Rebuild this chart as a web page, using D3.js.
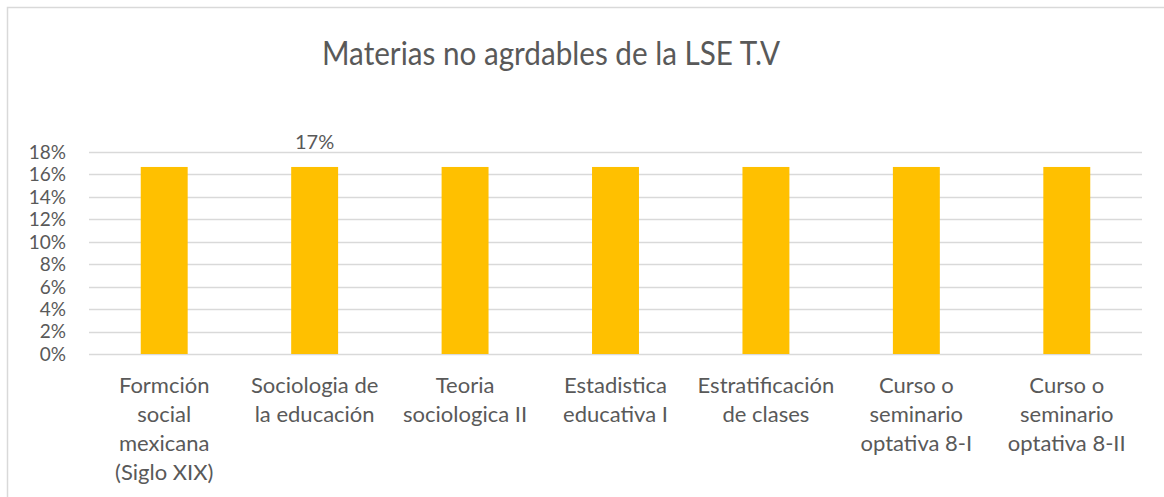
<!DOCTYPE html>
<html>
<head>
<meta charset="utf-8">
<script src="https://cdn.jsdelivr.net/npm/d3@7"></script>
<style>
  body { margin: 0; background: #fff; }
  svg { display: block; font-family: Lato, "Open Sans", sans-serif; }
</style>
</head>
<body>
<svg></svg>
<script>
// chart data
const categories = [
  "Formción\nsocial\nmexicana\n(Siglo XIX)",
  "Sociologia de\nla educación",
  "Teoria\nsociologica II",
  "Estadistica\neducativa I",
  "Estratificación\nde clases",
  "Curso o\nseminario\noptativa 8-I",
  "Curso o\nseminario\noptativa 8-II"
];
const values = [1 / 6, 1 / 6, 1 / 6, 1 / 6, 1 / 6, 1 / 6, 1 / 6];
const yTicks = [0, 0.02, 0.04, 0.06, 0.08, 0.10, 0.12, 0.14, 0.16, 0.18];
const labelledBar = 1; // only the 2nd bar shows its value
const title = "Materias no agrdables de la LSE T.V";

const width = 1164, height = 497;
const margin = { top: 152, right: 22, bottom: 143, left: 89 };
const textColor = "#595959";

const svg = d3.select("svg").attr("width", width).attr("height", height);

// outer chart border (right/bottom fall outside the picture)
svg.append("rect")
  .attr("x", 7.5).attr("y", 7.5)
  .attr("width", width + 20).attr("height", height + 20)
  .attr("fill", "none").attr("stroke", "#d9d9d9").attr("stroke-width", 1.5);

const x = d3.scaleBand()
  .domain(d3.range(categories.length))
  .range([margin.left, width - margin.right])
  .paddingInner(0.688).paddingOuter(0.344);

const y = d3.scaleLinear()
  .domain([0, 0.18])
  .range([height - margin.bottom, margin.top]);

// gridlines
svg.append("g")
  .selectAll("line")
  .data(yTicks)
  .join("line")
  .attr("x1", margin.left).attr("x2", width - margin.right)
  .attr("y1", d => Math.round(y(d)) + 0.5).attr("y2", d => Math.round(y(d)) + 0.5)
  .attr("stroke", "#d9d9d9").attr("stroke-width", 1.5);

// y tick labels
const fmt = d3.format(".0%");
svg.append("g")
  .selectAll("text")
  .data(yTicks)
  .join("text")
  .attr("x", 66)
  .attr("y", d => y(d))
  .attr("dy", "0.36em")
  .attr("text-anchor", "end")
  .attr("fill", textColor)
  .style("font-size", "19px")
  .text(d => fmt(d));

// bars
svg.append("g")
  .selectAll("rect")
  .data(values)
  .join("rect")
  .attr("x", (d, i) => x(i))
  .attr("y", d => y(d))
  .attr("width", x.bandwidth())
  .attr("height", d => y(0) - y(d))
  .attr("fill", "#ffc000");

// data label
svg.append("text")
  .attr("x", x(labelledBar) + x.bandwidth() / 2)
  .attr("y", 149)
  .attr("text-anchor", "middle")
  .attr("fill", textColor)
  .style("font-size", "20px")
  .text(fmt(values[labelledBar]));

// category labels
const catG = svg.append("g")
  .selectAll("text")
  .data(categories)
  .join("text")
  .attr("x", (d, i) => x(i) + x.bandwidth() / 2)
  .attr("y", 393)
  .attr("text-anchor", "middle")
  .attr("fill", textColor)
  .style("font-size", "22px");

catG.selectAll("tspan")
  .data(d => d.split("\n"))
  .join("tspan")
  .attr("x", function () { return this.parentNode.getAttribute("x"); })
  .attr("dy", (d, i) => i === 0 ? 0 : 29)
  .text(d => d);

// title
svg.append("text")
  .attr("x", 551)
  .attr("y", 65)
  .attr("text-anchor", "middle")
  .attr("fill", textColor)
  .attr("textLength", 458)
  .attr("lengthAdjust", "spacingAndGlyphs")
  .style("font-size", "33px")
  .text(title);
</script>
</body>
</html>
